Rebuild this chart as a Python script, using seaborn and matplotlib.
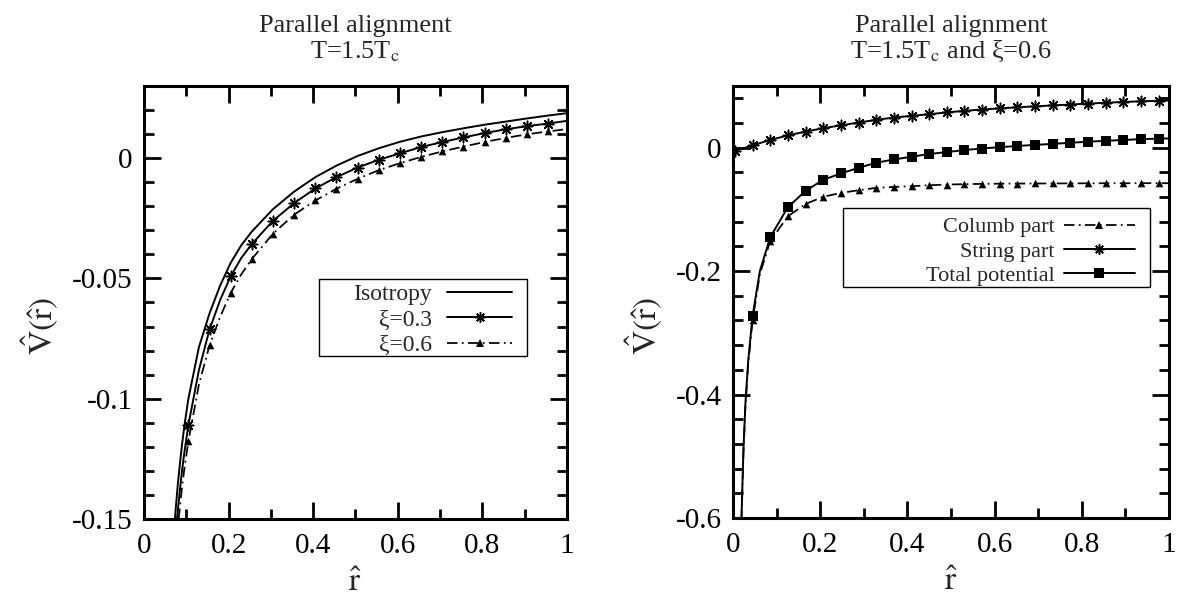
import numpy as np
import pandas as pd
import seaborn as sns
import matplotlib.pyplot as plt
from matplotlib.lines import Line2D
from matplotlib.patches import Rectangle
from matplotlib.ticker import MultipleLocator, FormatStrFormatter

# left panel: T = 1.5 Tc, isotropy vs anisotropy
iso_r = [0.073, 0.08, 0.085, 0.09, 0.095, 0.105, 0.13, 0.155, 0.18, 0.205, 0.23, 0.255,
         0.305, 0.355, 0.405, 0.455, 0.505, 0.555, 0.605, 0.655, 0.705, 0.755, 0.805,
         0.855, 0.905, 0.955, 1.0]
iso_v = [-0.150, -0.1356, -0.127, -0.119, -0.112, -0.100, -0.0785, -0.0645, -0.0530,
         -0.0435, -0.0362, -0.0305, -0.0212, -0.0139, -0.0079, -0.0031, 0.0009, 0.0041,
         0.0068, 0.0090, 0.0108, 0.0124, 0.0139, 0.0152, 0.0165, 0.0177, 0.0187]

xi3_r = [0.078, 0.085, 0.09, 0.095, 0.105, 0.13, 0.155, 0.18, 0.205, 0.23, 0.255,
         0.305, 0.355, 0.405, 0.455, 0.505, 0.555, 0.605, 0.655, 0.705, 0.755, 0.805,
         0.855, 0.905, 0.955, 1.0]
xi3_v = [-0.150, -0.1378, -0.1299, -0.1230, -0.1109, -0.0880, -0.0712, -0.0590, -0.0491,
         -0.0415, -0.0357, -0.0260, -0.0187, -0.0126, -0.0079, -0.0039, -0.0007, 0.0020,
         0.0046, 0.0067, 0.0086, 0.0104, 0.0120, 0.0133, 0.0144, 0.0155]

xi6_r = [0.082, 0.09, 0.095, 0.105, 0.13, 0.155, 0.18, 0.205, 0.23, 0.255,
         0.305, 0.355, 0.405, 0.455, 0.505, 0.555, 0.605, 0.655, 0.705, 0.755, 0.805,
         0.855, 0.905, 0.955, 1.0]
xi6_v = [-0.150, -0.1367, -0.1298, -0.1177, -0.0940, -0.0778, -0.0660, -0.0560, -0.0483,
         -0.0419, -0.0314, -0.0235, -0.0176, -0.0127, -0.0086, -0.0050, -0.0021, 0.0005,
         0.0028, 0.0048, 0.0067, 0.0084, 0.0099, 0.0111, 0.0121]

left_marks = [0.105, 0.155, 0.205, 0.255, 0.305, 0.355, 0.405, 0.455, 0.505, 0.555,
              0.605, 0.655, 0.705, 0.755, 0.805, 0.855, 0.905, 0.955]

# right panel: xi = 0.6, parts of the potential
right_marks = [0.0045, 0.045, 0.0855, 0.126, 0.1665, 0.207, 0.2475, 0.288, 0.3285, 0.369,
               0.4095, 0.45, 0.4905, 0.531, 0.5715, 0.612, 0.6525, 0.693, 0.7335, 0.774,
               0.8145, 0.855, 0.8955, 0.936, 0.9765]
string_v = [-0.0054, 0.0038, 0.0125, 0.0200, 0.0261, 0.0315, 0.0363, 0.0407, 0.0451, 0.0489,
            0.0516, 0.0543, 0.0572, 0.0597, 0.0619, 0.0637, 0.0655, 0.0670, 0.0685, 0.0700,
            0.0715, 0.0728, 0.0742, 0.0751, 0.0760]
total_v = [np.nan, -0.2725, -0.145, -0.0963, -0.070, -0.052, -0.0418, -0.0326, -0.0244,
           -0.0190, -0.0147, -0.0102, -0.0071, -0.0038, -0.0013, 0.0009, 0.0028, 0.0046,
           0.0062, 0.0080, 0.0097, 0.0112, 0.0125, 0.0139, 0.0147]
columb_v = [np.nan, -0.280, -0.151, -0.1112, -0.0912, -0.0795, -0.0733, -0.0689, -0.0651,
            -0.0635, -0.0624, -0.0608, -0.0597, -0.0591, -0.0586, -0.0583, -0.0581, -0.0580,
            -0.0579, -0.0578, -0.0577, -0.0576, -0.0576, -0.0575, -0.0575]

# extra line points (no markers) near r -> 0 and at r = 1
string_end_r = [0.0, 1.0]
string_end_v = [-0.0072, 0.0765]
total_low_r = [0.0195, 0.024, 0.0285, 0.035, 0.0617, 1.0]
total_low_v = [-0.600, -0.490, -0.415, -0.345, -0.200, 0.0150]
columb_low_r = [0.0195, 0.024, 0.0285, 0.035, 0.0617, 1.0]
columb_low_v = [-0.605, -0.495, -0.420, -0.350, -0.205, -0.0575]

sns.set_style("ticks")
plt.rcParams["font.family"] = ["Liberation Serif", "DejaVu Serif"]
plt.rcParams["mathtext.fontset"] = "stix"
plt.rcParams["axes.unicode_minus"] = False

DASHDOT = (0, (6, 2.5, 1, 2.5))
LW = 1.4
STAR8 = (8, 2, 0)
STAR_SIZE = 7.5
TRI_SIZE = 5.5
SQ_SIZE = 7.5


def line_df(r, v, extra_r=(), extra_v=()):
    df = pd.DataFrame({"r": list(r) + list(extra_r), "v": list(v) + list(extra_v)})
    return df.dropna().sort_values("r")


def draw_line(ax, df, dashed=False):
    sns.lineplot(data=df, x="r", y="v", ax=ax, color="black", sort=False,
                 linewidth=LW * (0.9 if dashed else 1.0),
                 linestyle=DASHDOT if dashed else "-")


def draw_marks(ax, df, marker, size):
    lw = 1.1 if marker == STAR8 else 0
    sns.scatterplot(data=df, x="r", y="v", ax=ax, marker=marker, s=size ** 2,
                    color="black", linewidth=lw, zorder=4)


def style_axes(ax, ylim, ymajor, yminor):
    ax.set_xlim(0, 1)
    ax.set_ylim(*ylim)
    ax.xaxis.set_major_locator(MultipleLocator(0.2))
    ax.xaxis.set_minor_locator(MultipleLocator(0.1))
    ax.yaxis.set_major_locator(MultipleLocator(ymajor))
    ax.yaxis.set_minor_locator(MultipleLocator(yminor))
    ax.xaxis.set_major_formatter(FormatStrFormatter("%g"))
    ax.yaxis.set_major_formatter(FormatStrFormatter("%g"))
    ax.tick_params(which="both", direction="in", top=True, right=True, width=2,
                   labelsize=21, colors="black")
    ax.tick_params(which="major", length=12, pad=10)
    ax.tick_params(which="minor", length=7)
    ax.tick_params(axis="y", which="major", pad=8)
    for s in ax.spines.values():
        s.set_linewidth(2.2)
        s.set_color("black")
        s.set_visible(True)
    ax.set_xlabel(r"$\hat{\mathrm{r}}$", fontsize=24, labelpad=6)
    ax.set_ylabel(r"$\hat{\mathrm{V}}(\hat{\mathrm{r}})$", fontsize=24, labelpad=8)
    ax.yaxis.label.set_y(0.445)


def make_legend(ax, handles, labels, box, anchor, fontsize, hlen, tpad):
    # gnuplot style key: thin box, labels right-aligned, sample to the right
    x0, y0, x1, y1 = box
    ax.add_patch(Rectangle((x0, y0), x1 - x0, y1 - y0, transform=ax.transAxes,
                           facecolor="white", edgecolor="black", lw=1.0, zorder=5))
    leg = ax.legend(handles, labels, loc="upper right", bbox_to_anchor=anchor,
                    markerfirst=False, fontsize=fontsize, handlelength=hlen,
                    handletextpad=tpad, labelspacing=0.16, borderpad=0,
                    borderaxespad=0, frameon=False)
    leg.set_zorder(6)
    return leg


fig = plt.figure(figsize=(11.82, 6.03), dpi=100)
ax1 = fig.add_axes([0.1218, 0.1393, 0.3579, 0.7181])
ax2 = fig.add_axes([0.6201, 0.1410, 0.3689, 0.7164])

# ---- left ----
draw_line(ax1, line_df(iso_r, iso_v))
d3 = line_df(xi3_r, xi3_v)
draw_line(ax1, d3)
draw_marks(ax1, d3[np.isin(d3["r"].round(4), np.round(left_marks, 4))], STAR8, STAR_SIZE)
d6 = line_df(xi6_r, xi6_v)
draw_line(ax1, d6, dashed=True)
draw_marks(ax1, d6[np.isin(d6["r"].round(4), np.round(left_marks, 4))], "^", TRI_SIZE)

style_axes(ax1, (-0.15, 0.03), 0.05, 0.01)
ax1.set_title("Parallel alignment\nT=1.5T$_\\mathrm{c}$", fontsize=19, pad=20,
              linespacing=1.1)

h1 = [Line2D([], [], color="black", lw=LW),
      Line2D([], [], color="black", lw=LW, marker=STAR8, markersize=STAR_SIZE,
             markeredgewidth=1.1),
      Line2D([], [], color="black", lw=LW * 0.9, linestyle=DASHDOT, marker="^",
             markersize=TRI_SIZE, markeredgewidth=0)]
make_legend(ax1, h1, ["Isotropy", "ξ=0.3", "ξ=0.6"],
            (0.4137, 0.3764, 0.9054, 0.5543), (0.870, 0.543), 17, 2.75, 0.65)

# ---- right ----
ds = line_df(right_marks, string_v, string_end_r, string_end_v)
draw_line(ax2, ds)
draw_marks(ax2, pd.DataFrame({"r": right_marks, "v": string_v}), STAR8, STAR_SIZE)
dc = line_df(right_marks, columb_v, columb_low_r, columb_low_v)
draw_line(ax2, dc, dashed=True)
draw_marks(ax2, pd.DataFrame({"r": right_marks, "v": columb_v}).dropna(), "^", TRI_SIZE)
dt = line_df(right_marks, total_v, total_low_r, total_low_v)
draw_line(ax2, dt)
draw_marks(ax2, pd.DataFrame({"r": right_marks, "v": total_v}).dropna(), "s", SQ_SIZE)

style_axes(ax2, (-0.6, 0.1), 0.2, 0.04)
ax2.set_title("Parallel alignment\nT=1.5T$_\\mathrm{c}$ and ξ=0.6", fontsize=19, pad=20,
              linespacing=1.1)

h2 = [Line2D([], [], color="black", lw=LW * 0.9, linestyle=DASHDOT, marker="^",
             markersize=TRI_SIZE, markeredgewidth=0),
      Line2D([], [], color="black", lw=LW, marker=STAR8, markersize=STAR_SIZE,
             markeredgewidth=1.1),
      Line2D([], [], color="black", lw=LW, marker="s", markersize=SQ_SIZE,
             markeredgewidth=0)]
make_legend(ax2, h2, ["Columb part", "String part", "Total potential"],
            (0.2523, 0.5347, 0.9564, 0.7176), (0.922, 0.697), 16, 3.2, 0.4)

fig.savefig("out.png", dpi=100, facecolor="white")
